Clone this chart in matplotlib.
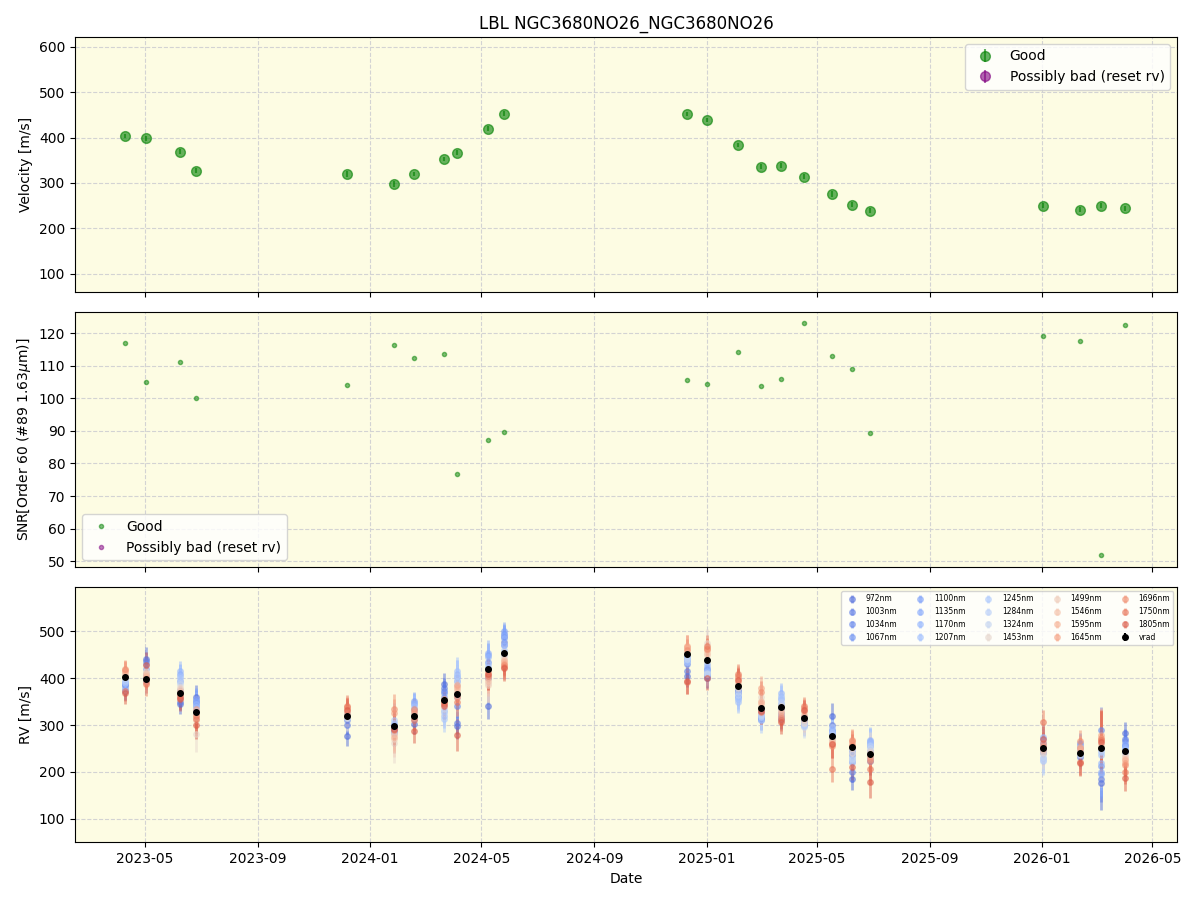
import numpy as np
import pandas as pd
import matplotlib
matplotlib.use('Agg')
import matplotlib.pyplot as plt
import matplotlib.dates as mdates


# epochs
dates = pd.to_datetime([
    '2023-04-09', '2023-05-02', '2023-06-08', '2023-06-26', '2023-12-07',
    '2024-01-27', '2024-02-18', '2024-03-21', '2024-04-05', '2024-05-08',
    '2024-05-26', '2024-12-11', '2025-01-01', '2025-02-04', '2025-03-01',
    '2025-03-23', '2025-04-17', '2025-05-17', '2025-06-08', '2025-06-28',
    '2026-01-02', '2026-02-11', '2026-03-06', '2026-04-01'])

vrad = [403, 398, 369, 327, 320, 298, 320, 353, 367, 420, 453, 452,
        439, 384, 336, 338, 314, 276, 252, 239, 250, 241, 250, 244]
vrad_err = [5, 5, 5, 6, 6, 6, 5, 5, 6, 6, 5, 5,
            5, 5, 5, 5, 5, 6, 6, 6, 5, 5, 6, 5]

snr = [116.8, 105.0, 111.1, 100.0, 104.0, 116.3, 112.3, 113.6, 76.7, 87.1, 89.6, 105.5,
       104.3, 114.2, 103.7, 105.9, 123.1, 112.9, 108.9, 89.3, 119.1, 117.5, 51.8, 122.5]

# per band rv
wavelengths = [972, 1003, 1034, 1067, 1100, 1135, 1170, 1207, 1245, 1284,
               1324, 1453, 1499, 1546, 1595, 1645, 1696, 1750, 1805]

rv_972 = [372, 442, 345, 360, 277, 290, 302, 388, 298, 341, 488, 405, 400, 370, 318, 312, 312, 320, 185, 222, 250, 232, 175, 282]
rv_1003 = [385, 436, 350, 352, 300, 296, 312, 380, 305, 400, 478, 415, 405, 375, 315, 320, 315, 300, 200, 230, 245, 238, 185, 270]
rv_1034 = [390, 430, 360, 348, 310, 300, 320, 372, 340, 420, 470, 430, 410, 372, 312, 325, 318, 290, 220, 245, 240, 250, 290, 265]
rv_1067 = [385, 420, 375, 340, 315, 285, 335, 368, 360, 435, 495, 440, 420, 368, 310, 335, 310, 285, 235, 255, 255, 262, 212, 258]
rv_1100 = [380, 410, 395, 355, 320, 288, 352, 360, 395, 450, 500, 445, 418, 362, 320, 345, 305, 280, 245, 262, 262, 258, 195, 255]
rv_1135 = [390, 405, 410, 352, 325, 292, 348, 345, 402, 455, 492, 440, 425, 360, 330, 355, 302, 275, 250, 265, 270, 250, 200, 260]
rv_1170 = [395, 400, 415, 345, 322, 290, 345, 330, 410, 445, 485, 448, 430, 355, 325, 368, 300, 290, 240, 268, 275, 248, 218, 252]
rv_1207 = [375, 395, 405, 338, 318, 305, 340, 320, 415, 430, 470, 435, 415, 350, 320, 362, 298, 295, 230, 262, 230, 245, 235, 248]
rv_1245 = [390, 402, 400, 332, 320, 310, 330, 312, 405, 425, 460, 440, 410, 355, 310, 358, 300, 285, 225, 258, 222, 240, 242, 245]
rv_1284 = [395, 405, 392, 330, 316, 285, 325, 325, 395, 420, 455, 445, 408, 365, 318, 350, 302, 280, 220, 255, 225, 238, 245, 242]
rv_1324 = [400, 410, 388, 325, 314, 280, 320, 335, 385, 405, 450, 442, 412, 370, 322, 345, 296, 272, 228, 250, 232, 236, 248, 240]
rv_1453 = [405, 415, 382, 280, 318, 262, 318, 345, 360, 390, 445, 455, 475, 380, 360, 340, 305, 268, 240, 245, 240, 240, 250, 236]
rv_1499 = [410, 412, 378, 310, 322, 270, 315, 348, 372, 385, 440, 462, 450, 385, 352, 335, 310, 270, 250, 240, 244, 245, 258, 232]
rv_1546 = [412, 408, 372, 318, 325, 280, 320, 350, 378, 395, 438, 465, 455, 390, 345, 330, 318, 265, 258, 235, 248, 248, 262, 228]
rv_1595 = [415, 405, 368, 322, 328, 275, 325, 352, 382, 400, 435, 466, 460, 395, 350, 325, 322, 262, 262, 232, 252, 252, 270, 225]
rv_1645 = [418, 400, 365, 335, 335, 325, 330, 355, 385, 410, 430, 468, 465, 400, 380, 320, 330, 260, 265, 228, 256, 250, 278, 218]
rv_1696 = [420, 392, 362, 320, 338, 335, 335, 350, 360, 415, 428, 460, 462, 405, 370, 315, 336, 255, 268, 222, 262, 265, 272, 215]
rv_1750 = [372, 388, 358, 312, 340, 290, 310, 345, 350, 405, 425, 392, 468, 408, 328, 310, 340, 206, 255, 205, 307, 220, 268, 200]
rv_1805 = [368, 428, 355, 300, 332, 292, 287, 340, 279, 408, 422, 395, 400, 396, 330, 306, 332, 260, 210, 178, 270, 218, 264, 187]

band_rv = [rv_972, rv_1003, rv_1034, rv_1067, rv_1100, rv_1135, rv_1170, rv_1207,
           rv_1245, rv_1284, rv_1324, rv_1453, rv_1499, rv_1546, rv_1595, rv_1645,
           rv_1696, rv_1750, rv_1805]

# typical error of each band, and how noisy each epoch was
band_err = [24, 21, 20, 20, 21, 22, 24, 26, 28, 28, 30, 34, 30, 28, 26, 24, 24, 26, 28]
epoch_scale = [0.8, 1.0, 0.9, 1.1, 0.9, 1.3, 0.9, 1.0, 1.2, 1.2, 1.0, 1.0,
               0.9, 0.9, 1.0, 0.9, 0.8, 1.1, 1.0, 1.2, 1.0, 1.0, 2.4, 1.0]


bg = '#fdfce3'

fig, axes = plt.subplots(3, 1, figsize=(12, 9), sharex=True)
fig.subplots_adjust(left=0.0625, right=0.981, top=0.959, bottom=0.064, hspace=0.08)

# velocity
ax = axes[0]
ax.errorbar(dates, vrad, yerr=vrad_err, fmt='o', color='green', alpha=0.6,
            ms=7, label='Good')
ax.errorbar([], [], yerr=[], fmt='o', color='purple', alpha=0.6, ms=7,
            label='Possibly bad (reset rv)')
ax.set_ylabel('Velocity [m/s]')
ax.set_ylim(60, 622)
ax.set_title('LBL NGC3680NO26_NGC3680NO26')
ax.legend(loc='upper right')

# snr
ax = axes[1]
ax.plot(dates, snr, 'o', color='green', alpha=0.5, ms=3, label='Good')
ax.plot([], [], 'o', color='purple', alpha=0.5, ms=3, label='Possibly bad (reset rv)')
ax.set_ylabel('SNR[Order 60 (#89 1.63$\\mu$m)]')
ax.set_ylim(48.2, 126.4)
ax.legend(loc='lower left')

# per band rv
ax = axes[2]
cmap = plt.cm.coolwarm
for wl, rv, be in zip(wavelengths, band_rv, band_err):
    c = cmap(0.08 + 0.8 * (wl - wavelengths[0]) / (wavelengths[-1] - wavelengths[0]))
    err = [be * s for s in epoch_scale]
    ax.errorbar(dates, rv, yerr=err, fmt='o', color=c, alpha=0.5, ms=4,
                elinewidth=2, label='%dnm' % wl)
ax.errorbar(dates, vrad, yerr=vrad_err, fmt='o', color='black', ms=4,
            elinewidth=1.5, label='vrad')
ax.set_ylabel('RV [m/s]')
ax.set_ylim(49, 594)
ax.set_xlabel('Date')
ax.legend(loc='upper right', ncol=5, fontsize=5.5)

for ax in axes:
    ax.set_facecolor(bg)
    ax.grid(True, linestyle='--', color='lightgrey')
    ax.set_axisbelow(True)

axes[2].xaxis.set_major_locator(mdates.MonthLocator(bymonth=[1, 5, 9]))
axes[2].xaxis.set_major_formatter(mdates.DateFormatter('%Y-%m'))
axes[2].set_xlim(pd.Timestamp('2023-02-14'), pd.Timestamp('2026-05-28'))

plt.savefig('out.png', dpi=100)
